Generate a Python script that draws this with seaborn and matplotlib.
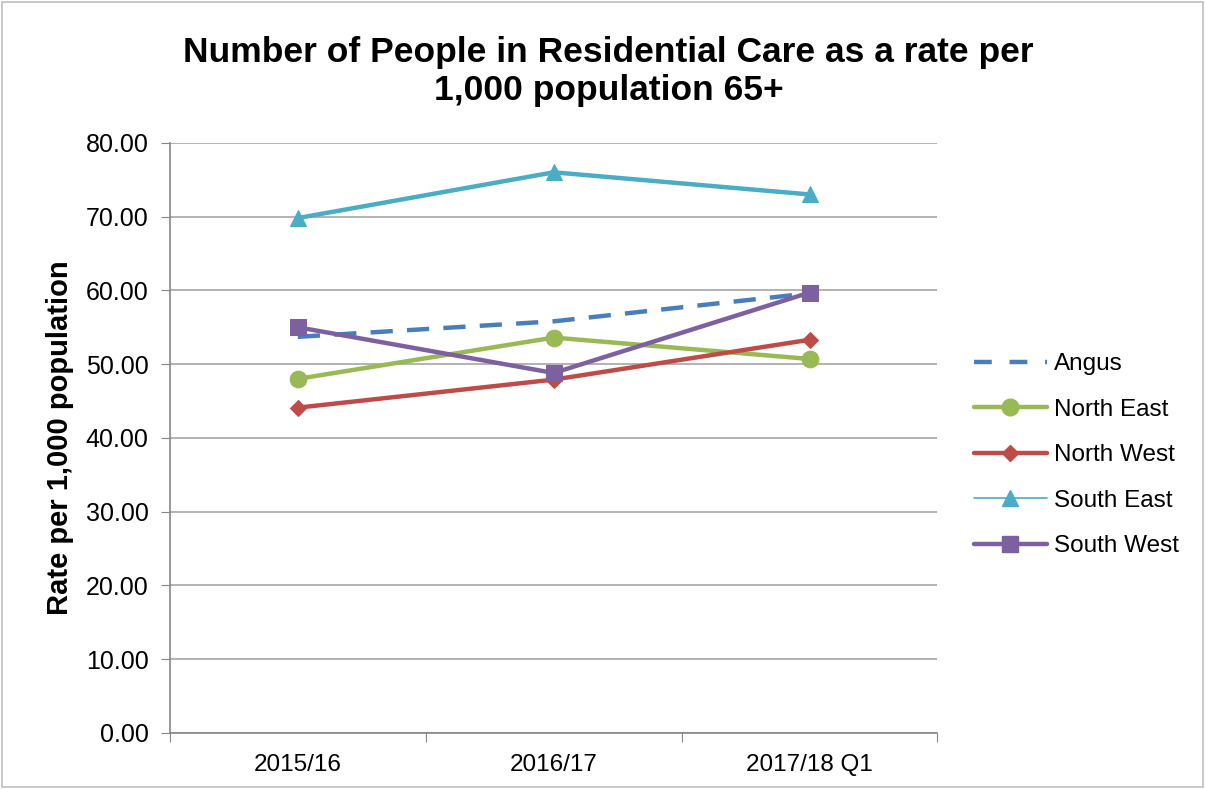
import matplotlib
matplotlib.use("Agg")
import matplotlib.pyplot as plt
from matplotlib.lines import Line2D
import seaborn as sns
import pandas as pd

categories = ["2015/16", "2016/17", "2017/18 Q1"]
angus = [53.7, 55.8, 59.6]
north_east = [48.0, 53.6, 50.7]
north_west = [44.1, 47.9, 53.3]
south_east = [69.8, 76.0, 73.0]
south_west = [55.0, 48.8, 59.7]

series_names = ["Angus", "North East", "North West", "South East", "South West"]
series_vals = [angus, north_east, north_west, south_east, south_west]
colors = ["#4A7EBB", "#98B954", "#BE4B48", "#4BACC6", "#7D60A0"]
markers = [None, "o", "D", "^", "s"]
msizes = [0, 12, 8, 11, 12]

sns.set_style("white")
plt.rcParams['font.family'] = ['Liberation Sans', 'DejaVu Sans']
plt.rcParams['text.color'] = 'black'
plt.rcParams['xtick.color'] = 'black'
plt.rcParams['ytick.color'] = 'black'
plt.rcParams['axes.labelcolor'] = 'black'

fig = plt.figure(figsize=(12.05, 7.89), dpi=100)
ax = fig.add_axes([0.141, 0.071, 0.637, 0.748])

for name, vals, c, m, ms in zip(series_names, series_vals, colors, markers, msizes):
    df = pd.DataFrame({"cat": categories, "val": vals})
    kw = dict(color=c, linewidth=3.2, ax=ax, sort=False)
    if m is None:
        sns.lineplot(data=df, x="cat", y="val", **kw)
        ax.lines[-1].set_dashes([5, 3.2])
    else:
        sns.lineplot(data=df, x="cat", y="val", marker=m, markersize=ms,
                     markeredgecolor=c, markerfacecolor=c, **kw)

ax.set_xlim(-0.5, 2.5)
ax.set_ylim(0, 80)
ax.set_yticks(range(0, 81, 10))
ax.set_yticklabels([f"{v:.2f}" for v in range(0, 81, 10)], fontsize=18)
ax.yaxis.grid(True, color="#A6A6A6", linewidth=1.2)
ax.set_axisbelow(True)

ax.set_xticks([-0.5, 0.5, 1.5, 2.5])
ax.set_xticklabels([])
ax.set_xticks([0, 1, 2], minor=True)
ax.set_xticklabels(categories, minor=True, fontsize=17.5)
ax.tick_params(axis="x", which="major", length=6.5, color="#868686", direction="out", bottom=True)
ax.tick_params(axis="x", which="minor", length=0, pad=15)
ax.tick_params(axis="y", length=6.5, color="#868686", direction="out", left=True, pad=9)

for s in ["top", "right"]:
    ax.spines[s].set_visible(False)
for s in ["left", "bottom"]:
    ax.spines[s].set_color("#868686")
    ax.spines[s].set_linewidth(1.2)

ax.set_xlabel("")
ax.set_ylabel("Rate per 1,000 population", fontsize=21, fontweight="bold", labelpad=8)

fig.suptitle("Number of People in Residential Care as a rate per\n1,000 population 65+",
             fontsize=25.5, fontweight="bold", y=0.955, x=0.505, linespacing=1.2)

handles = []
for name, c, m, ms in zip(series_names, colors, markers, msizes):
    if m is None:
        h = Line2D([], [], color=c, linewidth=3.2, dashes=[4, 4])
    elif name == "South East":
        h = Line2D([], [], color=c, linewidth=1.2, marker=m, markersize=ms)
    else:
        h = Line2D([], [], color=c, linewidth=3.2, marker=m, markersize=ms)
    handles.append(h)
fig.legend(handles, series_names, loc="center left", bbox_to_anchor=(0.79, 0.423),
           frameon=False, fontsize=17.5, handlelength=3.0, labelspacing=0.97,
           handletextpad=0.3)

border = plt.Rectangle((0.002, 0.002), 0.996, 0.996, transform=fig.transFigure,
                       fill=False, edgecolor="#BFBFBF", linewidth=1.2)
fig.add_artist(border)

fig.savefig("out.png", dpi=100)
